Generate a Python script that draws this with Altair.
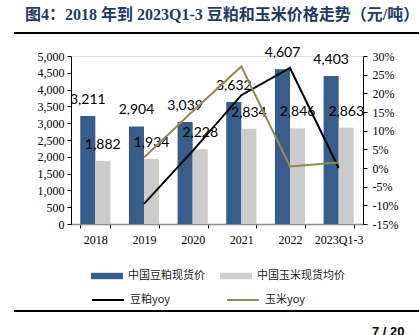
import altair as alt
import pandas as pd

years = ["2018", "2019", "2020", "2021", "2022", "2023Q1-3"]
soy_price = [3211, 2904, 3039, 3632, 4607, 4403]
corn_price = [1882, 1934, 2228, 2834, 2846, 2863]
soy_yoy = [None, -9.6, 4.6, 19.5, 26.8, 0.0]
corn_yoy = [None, 2.8, 15.2, 27.2, 0.4, 1.5]

TITLE = "图4：2018 年到 2023Q1-3 豆粕和玉米价格走势（元/吨）"
S_SOY = "中国豆粕现货价"
S_CORN = "中国玉米现货均价"
L_SOY = "豆粕yoy"
L_CORN = "玉米yoy"

bars_df = pd.DataFrame(
    [{"year": y, "series": S_SOY, "value": v} for y, v in zip(years, soy_price)]
    + [{"year": y, "series": S_CORN, "value": v} for y, v in zip(years, corn_price)]
)
lines_rows = []
for y, v in zip(years, soy_yoy):
    if v is not None:
        lines_rows.append({"year": y, "line": L_SOY, "yoy": v})
for y, v in zip(years, corn_yoy):
    if v is not None:
        lines_rows.append({"year": y, "line": L_CORN, "yoy": v})
lines_df = pd.DataFrame(lines_rows)

SERIF = "Liberation Serif, Noto Sans CJK SC"
CJK = "Noto Sans CJK SC"

x_enc = alt.X(
    "year:N", sort=years,
    scale=alt.Scale(paddingInner=0.38, paddingOuter=0.19),
    axis=alt.Axis(title=None, labelAngle=0, tickBand="extent", labelFont=SERIF,
                  labelFontSize=12, labelColor="#000", labelPadding=6,
                  domainColor="#8c8c8c", domainWidth=1.5, tickColor="#000",
                  tickSize=4, grid=False),
)
xoff = alt.XOffset("series:N", sort=[S_SOY, S_CORN],
                   scale=alt.Scale(paddingInner=0, paddingOuter=0))

y_left = alt.Y(
    "value:Q", scale=alt.Scale(domain=[0, 5000], nice=False),
    axis=alt.Axis(title=None, values=list(range(0, 5001, 500)), format=",.0f",
                  labelFont=SERIF, labelFontSize=12, labelColor="#000",
                  domainColor="#000", tickColor="#000", tickSize=4,
                  labelPadding=3, grid=False, orient="left"),
)

bars = alt.Chart(bars_df).mark_bar().encode(
    x=x_enc,
    xOffset=xoff,
    y=y_left,
    fill=alt.Fill(
        "series:N", sort=[S_SOY, S_CORN],
        scale=alt.Scale(domain=[S_SOY, S_CORN], range=["#385d8a", "#cccccc"]),
        legend=alt.Legend(
            title=None, orient="none", legendX=20, legendY=204,
            direction="horizontal", symbolType="M-1,-0.2H1V0.2H-1Z",
            symbolSize=1024, symbolStrokeWidth=0, labelFont=CJK,
            labelFontSize=11, labelColor="#222", labelOffset=5,
            columnPadding=15,
        ),
    ),
)

texts = alt.Chart(bars_df).mark_text(
    dy=-16, fontSize=14, font="Lato", color="#000"
).encode(
    x=alt.X("year:N", sort=years),
    xOffset=xoff,
    y=alt.Y("value:Q", scale=alt.Scale(domain=[0, 5000], nice=False), axis=None),
    text=alt.Text("value:Q", format=","),
)

lines = alt.Chart(lines_df).mark_line(strokeWidth=2).encode(
    x=alt.X("year:N", sort=years),
    y=alt.Y(
        "yoy:Q", scale=alt.Scale(domain=[-15, 30], nice=False),
        axis=alt.Axis(title=None, values=list(range(-15, 31, 5)),
                      labelExpr="datum.value + '%'", labelFont=SERIF,
                      labelFontSize=12, labelColor="#000", domainColor="#000",
                      tickColor="#000", tickSize=4, labelPadding=5,
                      grid=False, orient="right"),
    ),
    stroke=alt.Stroke(
        "line:N", sort=[L_SOY, L_CORN],
        scale=alt.Scale(domain=[L_SOY, L_CORN], range=["#000000", "#948a54"]),
        legend=alt.Legend(
            title=None, orient="none", legendX=20, legendY=227,
            direction="horizontal", symbolType="stroke", symbolSize=1024,
            symbolStrokeWidth=2, labelFont=CJK, labelFontSize=11,
            labelColor="#222", labelOffset=5, columnPadding=52,
        ),
    ),
)

one = alt.Data(values=[{"k": 1}])
title_mark = alt.Chart(one).mark_text(
    text=TITLE, align="left", baseline="middle", fontSize=16,
    fontWeight="bold", font="Liberation Serif, Noto Sans CJK SC", color="#1f3b63"
).encode(x=alt.value(-46), y=alt.value(-41))
rule_top = alt.Chart(one).mark_rule(color="#000", strokeWidth=2).encode(
    x=alt.value(-57), x2=alt.value(348), y=alt.value(-23)
)
rule_bot = alt.Chart(one).mark_rule(color="#000", strokeWidth=2).encode(
    x=alt.value(-57), x2=alt.value(348), y=alt.value(255)
)
page = alt.Chart(one).mark_text(
    text="7 / 20", align="left", baseline="top", fontSize=13,
    fontWeight="bold", font="Liberation Sans", color="#000"
).encode(x=alt.value(301), y=alt.value(270))

chart = alt.layer(bars, texts, lines, title_mark, rule_top, rule_bot, page).resolve_scale(
    y="independent", fill="independent", stroke="independent"
).properties(
    width=292, height=168,
    padding={"left": 71, "top": 56, "right": 56, "bottom": 111},
    autosize=alt.AutoSizeParams(type="none"),
).configure_view(stroke=None).configure(background="white")

chart.save("out.html", embed_options={"renderer": "svg", "actions": False})
